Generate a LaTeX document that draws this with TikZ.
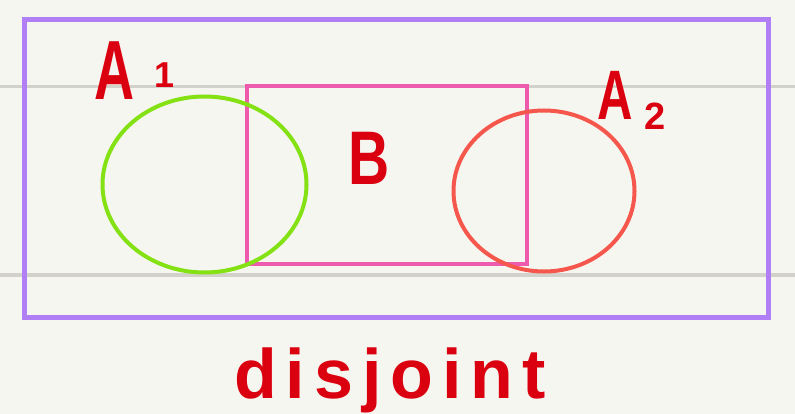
\documentclass[tikz,border=0pt]{standalone}
\usepackage{fontspec}
\setmainfont{Liberation Sans}
\begin{document}
\begin{tikzpicture}[x=1pt,y=-1pt,
  hand/.style={text=inkred, inner sep=0pt},
  guide/.style={draw=guidegrey, line width=3.5pt},
  shapeline/.style={line width=4pt}]
\definecolor{bg}{HTML}{F6F6F0}
\definecolor{guidegrey}{HTML}{D2D2CA}
\definecolor{purp}{HTML}{B07FF5}
\definecolor{pinkc}{HTML}{EE5AAE}
\definecolor{greenc}{HTML}{84E214}
\definecolor{redc}{HTML}{F5574C}
\definecolor{inkred}{HTML}{DA000F}
\fill[bg] (0,0) rectangle (795,414);
\useasboundingbox (0,0) rectangle (795,414);
\draw[guide] (0,86.5) -- (795,86.5);
\draw[guide] (0,275) -- (795,275);
\draw[shapeline, draw=purp, line width=4.5pt] (24.5,19.5) rectangle (768.5,317.5);
\draw[shapeline, draw=pinkc] (247,86.5) rectangle (527,263.5);
\draw[shapeline, draw=greenc] (204.5,184.5) ellipse [x radius=102, y radius=88];
\draw[shapeline, draw=redc] (544,191) ellipse [x radius=90.5, y radius=80.5];
\node[hand, anchor=base west] (a1) at (94,100)
  {\bfseries\fontsize{84}{84}\selectfont\scalebox{0.66}[1]{A}\hspace{20pt}\raisebox{12pt}{\fontsize{36}{36}\selectfont 1}};
\node[hand, anchor=base west] (a2) at (597,120)
  {\bfseries\fontsize{70}{70}\selectfont\scalebox{0.7}[1]{A}\hspace{12pt}\raisebox{-10pt}{\fontsize{38}{38}\selectfont 2}};
\node[hand, anchor=base, font=\bfseries\fontsize{76}{76}\selectfont] (b) at (369,185) {\scalebox{0.75}[1]{B}};
\node[hand, anchor=base, font=\bfseries\fontsize{70}{70}\selectfont] (dj) at (390,398)
  {d\hspace{9pt}i\hspace{9pt}s\hspace{9pt}j\hspace{9pt}o\hspace{9pt}i\hspace{9pt}n\hspace{9pt}t};
\end{tikzpicture}
\end{document}
